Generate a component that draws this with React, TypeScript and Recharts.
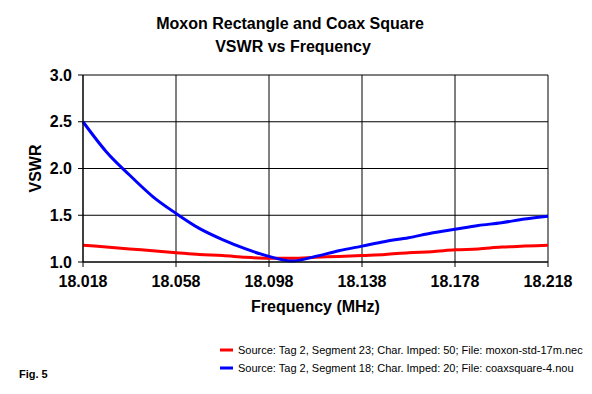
import React from 'react';
import { LineChart, Line, XAxis, YAxis, CartesianGrid, Label } from 'recharts';

const frequencies = [18.018, 18.028, 18.038, 18.048, 18.058, 18.068, 18.078, 18.088, 18.098, 18.108, 18.118, 18.128, 18.138, 18.148, 18.158, 18.168, 18.178, 18.188, 18.198, 18.208, 18.218];
const moxonVswr = [1.18, 1.16, 1.14, 1.12, 1.10, 1.08, 1.07, 1.05, 1.04, 1.04, 1.05, 1.06, 1.07, 1.08, 1.10, 1.11, 1.13, 1.14, 1.16, 1.17, 1.18];
const coaxVswr = [2.50, 2.18, 1.93, 1.70, 1.52, 1.36, 1.24, 1.14, 1.06, 1.01, 1.06, 1.12, 1.17, 1.22, 1.26, 1.31, 1.35, 1.39, 1.42, 1.46, 1.49];
const xTicks = [18.018, 18.058, 18.098, 18.138, 18.178, 18.218];
const yTicks = [1.0, 1.5, 2.0, 2.5, 3.0];
const titleLines = ['Moxon Rectangle and Coax Square', 'VSWR vs Frequency'];
const legendLabels = [
  'Source: Tag 2, Segment 23; Char. Imped: 50; File: moxon-std-17m.nec',
  'Source: Tag 2, Segment 18; Char. Imped: 20; File: coaxsquare-4.nou',
];

const data = frequencies.map((f, i) => ({ f, moxon: moxonVswr[i], coax: coaxVswr[i] }));

const FONT = '"Liberation Sans", Arial, sans-serif';

const YLabel = (props: any) => {
  const vb = props.viewBox || { x: 0, y: 0, width: 0, height: 0 };
  const cx = vb.x + 41;
  const cy = vb.y + vb.height / 2;
  return (
    <text x={cx} y={cy} transform={`rotate(-90 ${cx} ${cy})`} textAnchor="middle" fontFamily={FONT} fontSize={16} fontWeight="bold" fill="#000">
      VSWR
    </text>
  );
};

export default function App() {
  return (
    <div style={{ position: 'absolute', left: 0, top: 0, width: 592, height: 394, background: '#fff' }}>
      <LineChart width={592} height={394} data={data} margin={{ top: 75, right: 44, bottom: 82, left: 0 }}>
        <CartesianGrid stroke="#000" strokeWidth={1} fill="#fff" />
        <XAxis
          dataKey="f"
          type="number"
          domain={[18.018, 18.218]}
          ticks={xTicks}
          tickFormatter={(v: number) => v.toFixed(3)}
          height={50}
          tickSize={5}
          tickMargin={9}
          axisLine={{ stroke: '#000' }}
          tickLine={{ stroke: '#000' }}
          tick={{ fill: '#000', fontFamily: FONT, fontSize: 16, fontWeight: 'bold' }}
          interval={0}
        >
          <Label value="Frequency (MHz)" position="insideBottom" offset={0} style={{ fontFamily: FONT, fontSize: 16, fontWeight: 'bold', fill: '#000' }} />
        </XAxis>
        <YAxis
          type="number"
          domain={[1, 3]}
          ticks={yTicks}
          tickFormatter={(v: number) => v.toFixed(1)}
          width={83}
          tickSize={5}
          tickMargin={6}
          axisLine={{ stroke: '#000' }}
          tickLine={{ stroke: '#000' }}
          tick={{ fill: '#000', fontFamily: FONT, fontSize: 16, fontWeight: 'bold' }}
          interval={0}
        >
          <Label content={<YLabel />} />
        </YAxis>
        <Line type="monotone" dataKey="moxon" stroke="#FF0000" strokeWidth={3} dot={false} isAnimationActive={false} />
        <Line type="monotone" dataKey="coax" stroke="#0000FF" strokeWidth={3} dot={false} isAnimationActive={false} />
      </LineChart>
      <svg width={592} height={394} style={{ position: 'absolute', left: 0, top: 0, pointerEvents: 'none' }}>
        <text x={290} y={29} textAnchor="middle" fontFamily={FONT} fontSize={16} fontWeight="bold" fill="#000">{titleLines[0]}</text>
        <text x={293} y={52} textAnchor="middle" fontFamily={FONT} fontSize={16} fontWeight="bold" fill="#000">{titleLines[1]}</text>
        <line x1={220} x2={233} y1={350} y2={350} stroke="#FF0000" strokeWidth={3} />
        <text x={238} y={354} fontFamily={FONT} fontSize={11} fill="#000">{legendLabels[0]}</text>
        <line x1={220} x2={233} y1={368} y2={368} stroke="#0000FF" strokeWidth={3} />
        <text x={238} y={372} fontFamily={FONT} fontSize={11} fill="#000">{legendLabels[1]}</text>
        <text x={19} y={378} fontFamily={FONT} fontSize={11} fontWeight="bold" fill="#000">Fig. 5</text>
      </svg>
    </div>
  );
}
